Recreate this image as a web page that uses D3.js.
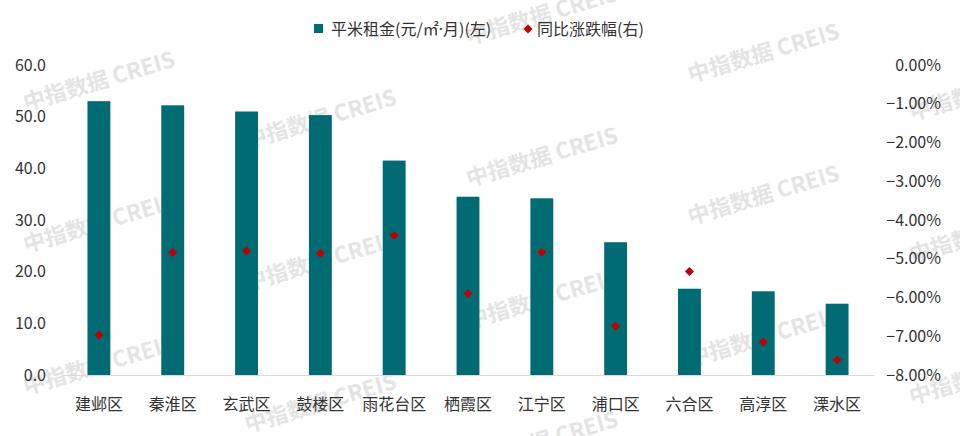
<!DOCTYPE html>
<html>
<head>
<meta charset="utf-8">
<script src="https://cdn.jsdelivr.net/npm/d3@7"></script>
<style>
  body { margin: 0; background: #fff; }
  svg { display: block; font-family: "Noto Sans CJK SC", "Noto Sans", sans-serif; }
</style>
</head>
<body>
<svg id="chart" width="960" height="436"></svg>
<script>
// districts of Nanjing
const districts = ["建邺区", "秦淮区", "玄武区", "鼓楼区", "雨花台区", "栖霞区",
                   "江宁区", "浦口区", "六合区", "高淳区", "溧水区"];
// rent per m2 per month (left axis)
const rent = [53.0, 52.2, 51.0, 50.3, 41.5, 34.5, 34.2, 25.7, 16.7, 16.2, 13.8];
// year-on-year change, % (right axis)
const yoy = [-6.97, -4.84, -4.80, -4.86, -4.40, -5.90, -4.83, -6.74, -5.33, -7.15, -7.61];

const leftTicks = [0, 10, 20, 30, 40, 50, 60];
const rightTicks = [0, -1, -2, -3, -4, -5, -6, -7, -8];

const svg = d3.select("#chart");
const barColor = "#016b73";
const dotColor = "#c00000";
const textColor = "#333";

const margin = {top: 65, bottom: 375, left: 62, right: 874};

const x = d3.scaleBand()
    .domain(districts)
    .range([margin.left, margin.right])
    .padding(0);

const yL = d3.scaleLinear().domain([0, 60]).range([margin.bottom, margin.top]);
const yR = d3.scaleLinear().domain([-8, 0]).range([margin.bottom, margin.top]);

// watermark, behind everything
const wm = svg.append("g").attr("class", "watermark");
for (let col = 0; col < 5; col++) {
    for (let row = -1; row < 4; row++) {
        let cx = 99 + 221.5 * col;
        let cy = 81 + 38 * col + 142 * row - (col >= 3 ? 142 : 0);
        if (cy < 5 || cy > 450) continue;
        wm.append("text")
            .attr("transform", "translate(" + cx + "," + cy + ") rotate(-16.5)")
            .attr("text-anchor", "middle")
            .attr("dy", "0.35em")
            .attr("font-size", 22)
            .attr("font-weight", "bold")
            .attr("fill", "#e4e4e4")
            .text("中指数据 CREIS");
    }
}

// bars
const barW = x.bandwidth() * 0.31;
svg.append("g")
    .selectAll("rect")
    .data(districts)
    .enter().append("rect")
    .attr("x", d => x(d) + x.bandwidth() / 2 - barW / 2)
    .attr("y", (d, i) => yL(rent[i]))
    .attr("width", barW)
    .attr("height", (d, i) => yL(0) - yL(rent[i]))
    .attr("fill", barColor);

// baseline
svg.append("line")
    .attr("x1", margin.left).attr("x2", margin.right)
    .attr("y1", yL(0) + 0.5).attr("y2", yL(0) + 0.5)
    .attr("stroke", "#d9d9d9")
    .attr("stroke-width", 1.2);

// diamonds
const diamond = d3.symbol().type(d3.symbolSquare).size(40);
svg.append("g")
    .selectAll("path")
    .data(districts)
    .enter().append("path")
    .attr("d", diamond)
    .attr("transform", (d, i) => "translate(" + (x(d) + x.bandwidth() / 2) + "," + yR(yoy[i]) + ") rotate(45)")
    .attr("fill", dotColor);

// left axis labels
const leftAxis = d3.axisLeft(yL).tickValues(leftTicks).tickSize(0).tickPadding(0)
    .tickFormat(d3.format(".1f"));
svg.append("g")
    .attr("transform", "translate(46,0)")
    .call(leftAxis)
    .call(g => g.select(".domain").remove())
    .selectAll("text")
    .attr("font-size", 16)
    .attr("font-family", "'Noto Sans CJK SC', sans-serif")
    .attr("fill", textColor);

// right axis labels
const rightAxis = d3.axisLeft(yR).tickValues(rightTicks).tickSize(0).tickPadding(0)
    .tickFormat(d => d3.format(".2f")(d) + "%");
svg.append("g")
    .attr("transform", "translate(941,0)")
    .call(rightAxis)
    .call(g => g.select(".domain").remove())
    .selectAll("text")
    .attr("font-size", 16)
    .attr("font-family", "'Noto Sans CJK SC', sans-serif")
    .attr("fill", textColor);

// category labels
svg.append("g")
    .selectAll("text")
    .data(districts)
    .enter().append("text")
    .attr("x", d => x(d) + x.bandwidth() / 2)
    .attr("y", 404)
    .attr("dy", "0.35em")
    .attr("text-anchor", "middle")
    .attr("font-size", 16)
    .attr("fill", textColor)
    .text(d => d);

// legend
const legend = svg.append("g");
legend.append("rect")
    .attr("x", 314).attr("y", 24).attr("width", 9).attr("height", 9)
    .attr("fill", barColor);
let t1 = legend.append("text")
    .attr("x", 331).attr("y", 29).attr("dy", "0.35em")
    .attr("font-size", 16).attr("fill", textColor);
t1.append("tspan").text("平米租金(元/㎡");
t1.append("tspan").attr("font-family", "'Noto Sans', sans-serif").text("·");
t1.append("tspan").text("月)(左)");
legend.append("path")
    .attr("d", diamond)
    .attr("transform", "translate(528,29) rotate(45)")
    .attr("fill", dotColor);
legend.append("text")
    .attr("x", 537).attr("y", 29).attr("dy", "0.35em")
    .attr("font-size", 16).attr("fill", textColor)
    .text("同比涨跌幅(右)");
</script>
</body>
</html>
